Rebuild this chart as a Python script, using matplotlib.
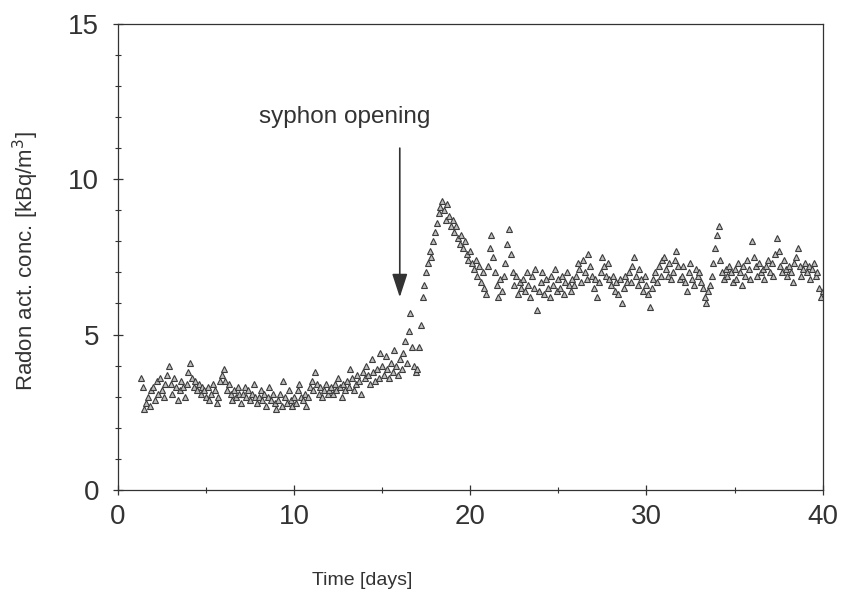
import numpy as np
import matplotlib
matplotlib.use("Agg")
import matplotlib.pyplot as plt
from matplotlib.ticker import MultipleLocator

plt.rcParams['font.family'] = ['Liberation Sans', 'DejaVu Sans']

# radon readings, one every 0.1 day starting at day 1.3
t_start = 1.3
t_step = 0.1
radon = [
    3.6, 3.3, 2.6, 2.8, 3.0, 2.7, 3.2,                      # 1.3 - 1.9
    3.3, 2.9, 3.5, 3.1, 3.6, 3.2, 3.0, 3.4, 3.7, 4.0,       # 2
    3.4, 3.1, 3.6, 3.3, 2.9, 3.2, 3.5, 3.3, 3.0, 3.4,       # 3
    3.8, 4.1, 3.6, 3.3, 3.5, 3.2, 3.4, 3.1, 3.3, 3.2,       # 4
    3.0, 3.3, 2.9, 3.1, 3.4, 3.2, 2.8, 3.0, 3.5, 3.7,       # 5
    3.9, 3.5, 3.2, 3.4, 3.1, 2.9, 3.2, 3.0, 3.3, 3.1,       # 6
    2.8, 3.1, 3.3, 3.0, 3.2, 2.9, 3.1, 3.4, 3.0, 2.8,       # 7
    3.0, 3.2, 2.9, 3.1, 2.7, 3.0, 3.3, 2.9, 3.1, 2.8,       # 8
    2.6, 2.9, 3.1, 2.7, 3.5, 3.0, 2.8, 3.2, 2.9, 2.7,       # 9
    3.0, 2.8, 3.2, 3.4, 3.0, 2.9, 3.1, 2.7, 3.0, 3.3,       # 10
    3.5, 3.2, 3.8, 3.4, 3.1, 3.3, 3.0, 3.2, 3.4, 3.1,       # 11
    3.2, 3.3, 3.1, 3.4, 3.2, 3.6, 3.3, 3.0, 3.4, 3.2,       # 12
    3.5, 3.3, 3.9, 3.6, 3.2, 3.4, 3.7, 3.5, 3.1, 3.8,       # 13
    3.6, 4.0, 3.7, 3.4, 4.2, 3.8, 3.5, 3.9, 3.6, 4.4,       # 14
    4.0, 3.7, 4.3, 3.9, 3.6, 4.1, 3.8, 4.5, 4.0, 3.7,       # 15
    4.2, 3.9, 4.4, 4.8, 4.1, 5.1, 5.7, 4.6, 4.0, 3.8,       # 16
    3.9, 4.6, 5.3, 6.2, 6.6, 7.0, 7.3, 7.7, 7.5, 8.0,       # 17
    8.3, 8.6, 8.9, 9.1, 9.3, 9.0, 8.7, 9.2, 8.8, 8.5,       # 18
    8.7, 8.3, 8.5, 8.1, 7.9, 8.2, 7.8, 8.0, 7.6, 7.4,       # 19
    7.7, 7.3, 7.1, 7.4, 6.9, 7.2, 6.7, 7.0, 6.5, 6.3,       # 20
    7.2, 7.8, 8.2, 7.5, 7.0, 6.6, 6.2, 6.8, 6.4, 6.9,       # 21
    7.3, 7.9, 8.4, 7.6, 7.0, 6.6, 6.9, 6.3, 6.7, 6.5,       # 22
    6.8, 6.4, 7.0, 6.6, 6.2, 6.9, 6.5, 7.1, 5.8, 6.4,       # 23
    6.7, 7.0, 6.3, 6.8, 6.5, 6.2, 6.9, 6.6, 7.1, 6.4,       # 24
    6.8, 6.5, 6.9, 6.3, 6.7, 7.0, 6.6, 6.4, 6.8, 6.6,       # 25
    6.9, 7.3, 7.1, 6.7, 7.4, 7.0, 6.8, 7.6, 7.2, 6.9,       # 26
    6.5, 6.8, 6.2, 6.7, 7.0, 7.5, 7.2, 6.9, 7.3, 6.8,       # 27
    6.6, 6.9, 6.4, 6.7, 6.3, 6.8, 6.0, 6.5, 6.9, 6.7,       # 28
    7.0, 6.7, 7.2, 7.5, 6.9, 6.6, 7.1, 6.8, 6.4, 6.9,       # 29
    6.6, 6.3, 5.9, 6.5, 6.8, 7.0, 6.7, 7.2, 6.9, 7.4,       # 30
    7.5, 7.1, 6.9, 7.3, 6.8, 7.0, 7.4, 7.7, 7.2, 6.8,       # 31
    6.9, 7.2, 6.7, 6.4, 7.0, 7.3, 6.8, 6.6, 7.1, 6.9,       # 32
    7.0, 6.7, 6.5, 6.2, 6.0, 6.4, 6.6, 6.9, 7.3, 7.8,       # 33
    8.2, 8.5, 7.4, 7.0, 6.8, 7.1, 6.9, 7.2, 7.0, 6.7,       # 34
    7.1, 6.8, 7.3, 7.0, 6.6, 7.2, 6.9, 7.4, 7.1, 6.8,       # 35
    8.0, 7.5, 7.2, 6.9, 7.3, 7.0, 7.1, 6.8, 7.2, 7.4,       # 36
    7.0, 7.3, 6.9, 7.6, 8.1, 7.7, 7.2, 7.0, 7.4, 7.1,       # 37
    6.9, 7.2, 7.0, 6.7, 7.3, 7.5, 7.8, 7.2, 6.9, 7.1,       # 38
    7.3, 7.0, 7.2, 6.8, 7.1, 7.3, 6.9, 7.0, 6.5, 6.2, 6.4,  # 39 - 40
]
days = t_start + t_step * np.arange(len(radon))

# syphon opening: arrow from (day, top) down to (day, tip), label above it
syphon_day = 16.0
arrow_top = 11.0
arrow_tip = 6.2
label_day = 12.9
label_level = 12.0

fig = plt.figure(figsize=(8.42, 5.96), dpi=100)
ax = fig.add_axes([0.140, 0.178, 0.837, 0.782])

ax.plot(days, radon, linestyle='none', marker='^', markersize=4.8,
        markerfacecolor='#bdbdbd', markeredgecolor='#3c3c3c', markeredgewidth=0.8)

ax.set_xlim(0, 40)
ax.set_ylim(0, 15)
ax.xaxis.set_major_locator(MultipleLocator(10))
ax.xaxis.set_minor_locator(MultipleLocator(5))
ax.yaxis.set_major_locator(MultipleLocator(5))
ax.yaxis.set_minor_locator(MultipleLocator(1))
ax.tick_params(which='major', direction='inout', length=7, width=0.9,
               labelsize=20, colors='#333333')
ax.tick_params(which='minor', direction='inout', length=5, width=0.8, colors='#333333')
ax.tick_params(axis='x', pad=7)
ax.tick_params(axis='y', pad=10)
for s in ax.spines.values():
    s.set_linewidth(0.9)
    s.set_color('#333333')

ax.set_xlabel('Time [days]', fontsize=14, color='#333333')
ax.xaxis.set_label_coords(0.346, -0.176)
ax.set_ylabel('Radon act. conc. [kBq/m$^3$]', fontsize=16, color='#333333')
ax.yaxis.set_label_coords(-0.109, 0.49)

ax.annotate('', xy=(syphon_day, arrow_tip), xytext=(syphon_day, arrow_top),
            arrowprops=dict(arrowstyle='-|>,head_length=0.72,head_width=0.235',
                            mutation_scale=20, color='#333333', lw=1.2,
                            shrinkA=0, shrinkB=0))
ax.text(label_day, label_level, 'syphon opening', fontsize=17.5, color='#333333',
        ha='center', va='center')

fig.savefig('out.png', dpi=100)
